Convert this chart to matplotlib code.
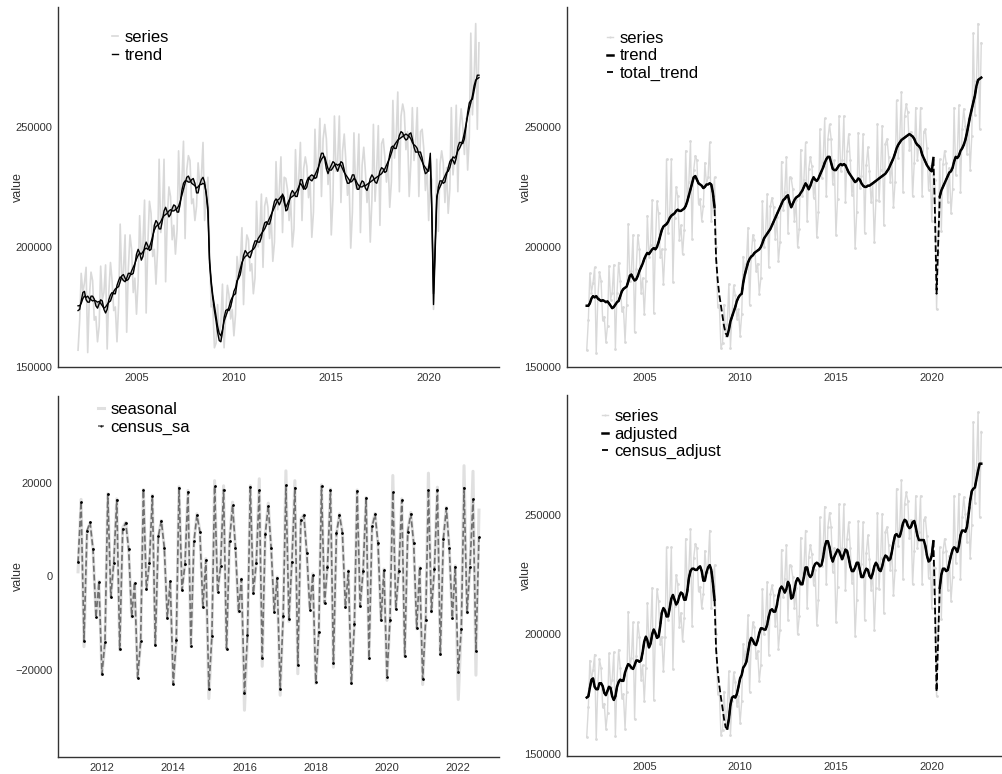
#Decomposition of a monthly series: trend, seasonal and adjusted panels
#four panels, each with its own axes

import numpy as np
import pandas as pd
import matplotlib
matplotlib.use('Agg')
import matplotlib.pyplot as plt
import matplotlib.dates as mdates

plt.rcParams['font.family'] = ['Liberation Sans', 'DejaVu Sans']

#Monthly dates
dates = pd.date_range('2002-01-01', periods=248, freq='MS')
dates_sa = pd.date_range('2011-05-01', periods=136, freq='MS')

#Values in thousands, one row per year
series = [
    157.0, 169.5, 189.0, 181.0, 185.0, 191.5, 156.0, 179.0, 189.5, 186.0, 169.5, 171.0,
    160.5, 167.0, 192.0, 178.0, 181.0, 192.5, 157.5, 181.0, 193.5, 186.0, 173.5, 175.0,
    160.5, 176.0, 209.5, 186.0, 190.0, 205.0, 164.5, 191.0, 205.0, 199.0, 181.0, 187.0,
    172.0, 186.0, 213.0, 196.0, 201.0, 219.5, 172.5, 201.0, 219.0, 214.0, 196.0, 199.0,
    184.5, 199.0, 236.5, 206.0, 214.0, 236.5, 185.5, 212.0, 225.0, 221.0, 203.0, 209.0,
    197.0, 207.0, 240.0, 219.0, 227.0, 244.0, 203.5, 232.0, 238.0, 236.0, 218.0, 220.0,
    211.0, 217.0, 235.0, 226.0, 229.0, 243.5, 211.0, 221.0, 229.0, 200.0, 175.0, 176.0,
    158.0, 160.0, 176.0, 163.0, 168.0, 184.5, 158.0, 172.0, 184.0, 180.0, 170.0, 174.0,
    163.0, 172.0, 196.0, 189.0, 193.0, 208.0, 176.0, 196.0, 205.0, 203.0, 190.0, 193.0,
    180.5, 187.0, 219.0, 200.0, 205.5, 222.0, 191.5, 217.0, 220.5, 216.5, 203.5, 212.5,
    194.0, 202.0, 235.5, 215.5, 223.0, 237.5, 206.0, 229.0, 228.5, 224.0, 211.0, 219.5,
    200.0, 207.5, 240.5, 221.0, 228.0, 243.5, 211.0, 232.5, 237.5, 233.5, 220.5, 227.0,
    204.0, 214.5, 249.0, 228.5, 235.5, 253.5, 221.0, 245.0, 251.0, 245.0, 226.0, 236.0,
    205.0, 220.0, 254.5, 231.5, 236.0, 254.5, 218.5, 240.0, 247.0, 236.0, 221.5, 227.5,
    199.5, 214.5, 247.5, 224.5, 229.5, 247.0, 206.0, 234.0, 241.5, 231.5, 218.5, 226.5,
    202.0, 219.5, 251.0, 219.0, 232.0, 250.5, 209.0, 243.0, 245.0, 237.5, 227.0, 236.0,
    216.5, 227.0, 261.0, 237.0, 245.5, 264.5, 223.0, 254.5, 259.5, 256.0, 240.5, 248.0,
    221.0, 235.0, 258.0, 236.0, 243.0, 258.0, 221.0, 248.0, 249.0, 241.0, 223.5, 233.5,
    211.0, 230.0, 228.0, 174.0, 198.0, 236.5, 206.5, 234.5, 240.0, 235.0, 218.5, 233.0,
    214.0, 224.0, 258.0, 230.0, 238.5, 259.0, 223.0, 249.0, 257.5, 250.5, 238.5, 253.5,
    232.0, 246.0, 289.0, 255.0, 269.0, 293.0, 249.0, 285.0,
]

trend = [
    175.5, 175.5, 176.5, 178.5, 179.5, 179.0, 179.5, 178.5, 178.0, 177.5, 177.8, 177.5,
    177.0, 177.3, 176.5, 175.5, 174.5, 175.0, 176.0, 177.0, 177.5, 179.5, 181.5, 182.5,
    183.0, 183.5, 185.5, 188.0, 188.5, 187.0, 186.0, 186.5, 188.0, 190.0, 191.5, 193.0,
    195.0, 196.5, 197.5, 197.0, 198.0, 199.0, 199.5, 199.0, 200.0, 202.0, 204.5, 207.0,
    208.5, 209.0, 209.5, 210.5, 212.0, 213.0, 213.5, 214.0, 215.0, 215.5, 215.0, 215.0,
    215.5, 216.0, 217.0, 219.0, 221.5, 224.0, 226.5, 229.0, 229.5, 228.0, 226.5, 226.0,
    225.5, 224.5, 225.0, 226.0, 226.0, 226.5, 226.0, 222.5, 216.5, 195.0, 186.0, 180.0,
    175.5, 171.0, 167.0, 164.0, 163.0, 165.5, 169.0, 171.0, 173.0, 175.0, 177.5, 179.0,
    180.0, 180.5, 185.0, 188.5, 191.0, 193.5, 195.0, 196.0, 196.5, 197.5, 198.0, 198.5,
    199.0, 200.0, 201.5, 203.5, 204.5, 205.5, 206.5, 207.5, 209.0, 210.5, 212.0, 213.5,
    215.0, 216.5, 218.0, 219.5, 220.0, 221.0, 221.5, 218.5, 216.5, 218.0, 219.5, 220.5,
    221.0, 221.5, 222.5, 223.5, 225.0, 226.5, 225.5, 224.0, 225.5, 227.5, 229.0, 228.0,
    227.5, 228.5, 230.0, 231.5, 233.0, 235.0, 236.5, 237.5, 237.5, 235.0, 232.5, 232.0,
    232.0, 233.0, 234.0, 234.5, 234.0, 234.5, 234.0, 232.5, 231.0, 230.0, 229.0, 228.0,
    227.0, 227.5, 228.5, 228.0, 226.5, 225.5, 225.0, 225.0, 225.5, 225.5, 226.0, 226.5,
    227.0, 227.5, 228.0, 228.5, 229.0, 229.5, 230.0, 230.5, 231.5, 232.5, 234.0, 235.5,
    237.0, 239.0, 241.0, 242.5, 243.5, 244.5, 245.0, 245.5, 246.0, 246.5, 247.0, 246.5,
    246.0, 245.0, 243.5, 242.5, 242.0, 241.0, 238.5, 237.0, 235.5, 234.0, 233.0, 232.0,
    231.5, 237.0, 215.0, 180.5, 200.0, 221.0, 223.5, 225.0, 226.5, 228.0, 229.5, 231.0,
    231.5, 233.0, 235.5, 237.5, 237.0, 238.0, 240.0, 241.0, 242.5, 244.5, 247.5, 251.0,
    254.5, 257.5, 260.0, 263.0, 267.0, 269.5, 270.0, 270.5,
]

adjusted = [
    173.5, 174.0, 177.5, 181.0, 181.5, 178.0, 177.0, 177.0, 179.5, 179.5, 178.3, 175.5,
    174.5, 176.3, 178.0, 177.5, 174.0, 172.5, 174.0, 178.0, 180.0, 181.0, 180.5, 180.5,
    184.0, 186.0, 187.5, 187.0, 186.0, 185.5, 187.0, 189.0, 189.0, 188.5, 189.0, 192.5,
    197.0, 199.0, 197.5, 194.5, 196.0, 200.0, 202.0, 200.5, 198.5, 199.0, 203.5, 209.0,
    211.0, 210.0, 207.5, 207.5, 211.0, 215.0, 216.5, 214.5, 212.5, 213.5, 216.0, 217.5,
    217.0, 214.5, 214.5, 218.0, 223.5, 226.5, 227.5, 227.5, 227.0, 227.0, 228.0, 228.5,
    226.5, 222.5, 222.5, 226.0, 228.0, 229.0, 227.0, 221.5, 214.5, 193.5, 184.5, 178.5,
    173.5, 169.0, 164.5, 161.0, 160.5, 164.5, 170.5, 173.5, 174.0, 173.5, 175.0, 178.0,
    181.5, 183.0, 186.0, 187.0, 188.5, 192.5, 196.5, 198.5, 197.5, 196.0, 195.5, 197.5,
    200.5, 202.5, 202.5, 202.0, 202.0, 204.0, 207.5, 210.0, 210.5, 209.5, 209.5, 212.0,
    216.0, 219.0, 220.0, 219.0, 217.5, 219.0, 222.0, 220.5, 215.0, 215.5, 218.5, 222.0,
    223.5, 222.5, 221.0, 221.0, 224.0, 228.0, 228.0, 225.0, 224.0, 225.0, 228.0, 229.5,
    230.0, 229.5, 228.5, 229.0, 232.0, 236.5, 239.0, 239.0, 236.5, 232.5, 230.5, 232.5,
    234.0, 235.5, 235.0, 233.0, 231.5, 233.5, 235.5, 235.0, 232.0, 228.5, 226.5, 226.5,
    228.0, 230.0, 230.0, 227.0, 224.0, 224.0, 226.0, 227.5, 227.0, 224.5, 223.5, 225.5,
    228.5, 230.0, 229.0, 227.0, 226.5, 228.5, 231.5, 233.0, 232.5, 231.0, 231.5, 234.5,
    238.5, 241.5, 242.0, 241.0, 241.0, 243.5, 246.5, 248.0, 247.5, 245.5, 244.5, 245.0,
    247.0, 247.5, 245.0, 241.5, 239.5, 239.5, 239.5, 239.5, 237.0, 233.0, 230.5, 231.0,
    233.0, 239.0, 213.0, 176.0, 198.0, 219.5, 225.0, 227.5, 227.5, 226.5, 227.0, 230.0,
    233.0, 235.5, 236.5, 236.0, 234.5, 237.0, 241.5, 243.5, 243.5, 243.0, 245.0, 250.0,
    256.0, 260.0, 261.0, 261.5, 265.0, 268.5, 271.5, 271.5,
]

seasonal = [
    1.0, 16.5, -15.0, 9.5, 11.5, 6.0, -8.5, -1.0,
    -21.0, -14.4, 17.7, -4.4, 2.7, 16.6, -15.7, 10.5, 11.6, 5.9, -8.7, -1.4,
    -21.5, -14.0, 18.6, -2.6, 2.7, 17.4, -14.5, 8.4, 12.0, 6.3, -8.7, -1.2,
    -22.9, -14.0, 19.2, -2.8, 2.5, 18.4, -15.0, 7.3, 13.4, 9.8, -6.5, 3.8,
    -26.1, -13.0, 20.5, -3.2, 2.0, 19.4, -15.5, 7.7, 15.9, 6.0, -7.6, -0.5,
    -28.6, -13.0, 19.4, -3.7, 3.0, 20.9, -19.2, 9.1, 15.7, 6.1, -7.3, -0.1,
    -25.4, -8.0, 22.6, -9.6, 3.0, 20.5, -20.8, 12.3, 13.2, 5.0, -6.9, 0.6,
    -22.9, -12.0, 19.6, -5.8, 2.0, 18.7, -19.4, 9.1, 13.4, 9.5, -6.5, 1.3,
    -22.9, -10.0, 18.5, -6.4, 1.0, 16.9, -17.6, 10.9, 13.5, 7.0, -9.4, 1.6,
    -22.2, -9.0, 21.6, -6.9, 1.0, 16.6, -17.1, 9.8, 13.7, 7.0, -11.2, 2.0,
    -23.1, -9.0, 22.1, -7.6, 1.5, 19.1, -16.7, 8.0, 14.8, 6.0, -9.0, 2.3,
    -26.3, -11.0, 23.7, -7.8, 2.0, 22.5, -21.1, 14.2,
]

census_sa = [
    3.0, 16.0, -13.7, 9.8, 11.6, 5.9, -8.7, -1.2,
    -20.8, -14.0, 17.6, -4.3, 2.9, 16.4, -15.5, 10.2, 11.5, 5.8, -8.5, -1.3,
    -21.7, -13.8, 18.4, -2.7, 2.8, 17.2, -14.7, 8.6, 11.9, 6.2, -8.8, -1.0,
    -23.0, -13.5, 19.0, -2.9, 2.6, 18.1, -14.8, 7.5, 13.1, 9.6, -6.6, 3.5,
    -24.0, -12.8, 19.3, -3.3, 2.2, 18.6, -15.4, 7.6, 15.2, 6.1, -7.4, -0.6,
    -25.0, -12.5, 19.2, -3.6, 2.9, 18.4, -17.5, 9.0, 15.1, 6.0, -7.5, -0.3,
    -24.0, -8.5, 19.5, -9.0, 3.1, 19.0, -19.0, 12.0, 13.1, 5.1, -7.1, 0.3,
    -22.5, -11.8, 19.3, -5.7, 2.1, 18.4, -18.5, 9.2, 13.2, 9.3, -6.6, 1.1,
    -22.7, -10.2, 18.3, -6.3, 1.1, 16.8, -17.4, 10.7, 13.3, 7.1, -9.3, 1.4,
    -21.5, -9.2, 18.0, -7.0, 1.2, 16.3, -17.0, 9.6, 13.4, 7.1, -11.0, 1.8,
    -22.0, -9.2, 18.5, -7.4, 1.6, 18.6, -16.5, 8.1, 14.6, 6.1, -8.8, 2.1,
    -20.5, -11.2, 19.0, -7.6, 2.1, 16.5, -16.0, 8.4,
]

#months where the solid lines are not drawn (outlier periods)
outlier_months = ['2008-10', '2008-11', '2008-12', '2009-01', '2009-02', '2009-03',
                  '2009-04', '2020-03', '2020-04', '2020-05']

series = np.array(series)*1000
trend = np.array(trend)*1000
adjusted = np.array(adjusted)*1000
seasonal = np.array(seasonal)*1000
census_sa = np.array(census_sa)*1000

gap = dates.strftime('%Y-%m').isin(outlier_months)
trend_solid = np.where(gap, np.nan, trend)
adjusted_solid = np.where(gap, np.nan, adjusted)

W, H = 1002, 774
fig = plt.figure(figsize=(W/100, H/100), dpi=100)

def box(l, t, r, b):
    return [l/W, 1-b/H, (r-l)/W, (b-t)/H]

ax1 = fig.add_axes(box(58, 7, 499, 367))
ax2 = fig.add_axes(box(567, 7, 1001, 367))
ax3 = fig.add_axes(box(58, 396, 499, 757))
ax4 = fig.add_axes(box(567, 395, 1001, 756))

light = '#d9d9d9'

#top left: series and trend band
ax1.plot(dates, series, color=light, lw=1.2, label='series')
ax1.fill_between(dates, trend, adjusted, color='#c4c4c4', lw=0)
ax1.plot(dates, trend, color='black', lw=1, label='trend')
ax1.plot(dates, adjusted, color='black', lw=1)

#top right: series, trend, total trend
ax2.plot(dates, series, color=light, lw=1, marker='.', ms=2, label='series')
ax2.plot(dates, trend_solid, color='black', lw=1.8, label='trend')
ax2.plot(dates, trend, color='black', lw=1.3, ls='--', label='total_trend')

#bottom left: seasonal factors
ax3.plot(dates_sa, seasonal, color='#e0e0e0', lw=2.2, label='seasonal')
ax3.plot(dates_sa, census_sa, color='#707070', lw=1.2, ls='--',
         marker='.', ms=2, mfc='black', mec='black', label='census_sa')

#bottom right: seasonally adjusted
ax4.plot(dates, series, color=light, lw=1, marker='.', ms=2, label='series')
ax4.plot(dates, adjusted_solid, color='black', lw=1.8, label='adjusted')
ax4.plot(dates, adjusted, color='black', lw=1.3, ls='--', label='census_adjust')

ax1.set_ylim(150000, 299900)
ax2.set_ylim(150000, 299900)
ax3.set_ylim(-38600, 38600)
ax4.set_ylim(149000, 300300)

ax1.set_yticks([150000, 200000, 250000])
ax2.set_yticks([150000, 200000, 250000])
ax3.set_yticks([-20000, 0, 20000])
ax4.set_yticks([150000, 200000, 250000])

legend_xy = [(112, 30), (607, 31), (98, 402), (602, 409)]
label_x = [-0.078, -0.081, -0.078, -0.081]

for ax, (lx, ly), yl in zip([ax1, ax2, ax3, ax4], legend_xy, label_x):
    for s in ['top', 'right']:
        ax.spines[s].set_visible(False)
    for s in ['left', 'bottom']:
        ax.spines[s].set_color('#333333')
        ax.spines[s].set_linewidth(1)
    ax.tick_params(length=0, pad=4, labelsize=8, labelcolor='#333333')
    if ax is ax3:
        ax.xaxis.set_major_locator(mdates.YearLocator(2))
    else:
        ax.xaxis.set_major_locator(mdates.YearLocator(5))
    ax.xaxis.set_major_formatter(mdates.DateFormatter('%Y'))
    ax.set_ylabel('value', fontsize=9, color='#333333')
    ax.yaxis.set_label_coords(yl, 0.5)
    ax.legend(loc='upper left', bbox_to_anchor=(lx/W, 1-ly/H),
              bbox_transform=fig.transFigure, frameon=False, fontsize=12,
              handlelength=0.35, handletextpad=0.4, labelspacing=0.15,
              borderpad=0, borderaxespad=0, markerscale=0.5)

plt.savefig('out.png', dpi=100)
